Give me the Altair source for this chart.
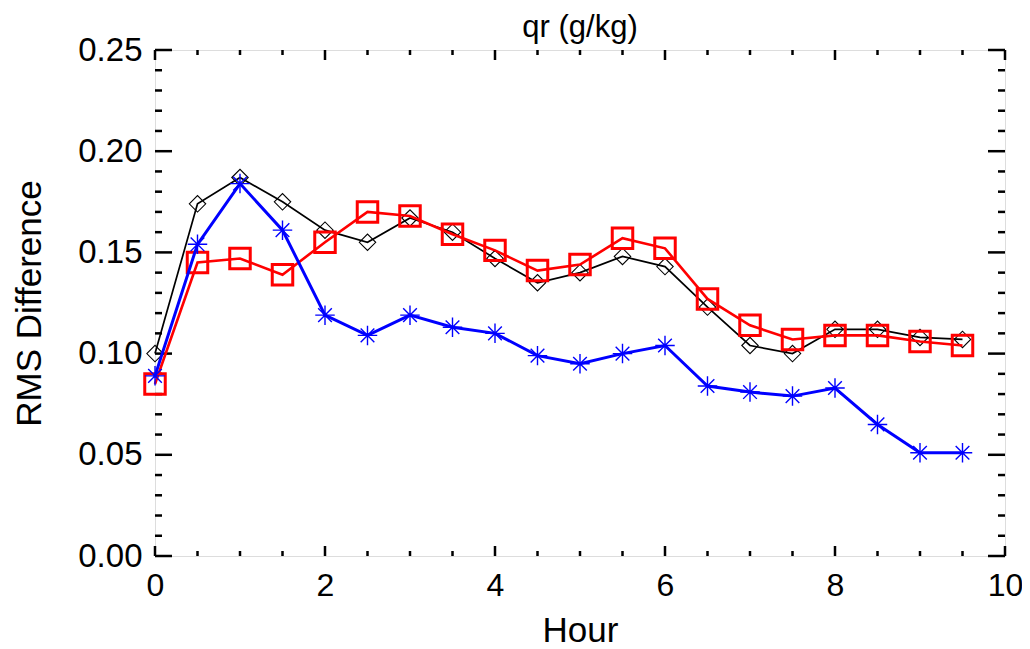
import altair as alt
import pandas as pd

# ---- data ----
hours = [0.0, 0.5, 1.0, 1.5, 2.0, 2.5, 3.0, 3.5, 4.0, 4.5,
         5.0, 5.5, 6.0, 6.5, 7.0, 7.5, 8.0, 8.5, 9.0, 9.5]
black_rms = [0.100, 0.174, 0.187, 0.175, 0.161, 0.155, 0.167, 0.160, 0.147, 0.135,
             0.140, 0.148, 0.143, 0.123, 0.104, 0.100, 0.112, 0.112, 0.108, 0.107]
red_rms = [0.085, 0.145, 0.147, 0.139, 0.155, 0.170, 0.168, 0.159, 0.151, 0.141,
           0.144, 0.157, 0.152, 0.127, 0.114, 0.107, 0.109, 0.109, 0.106, 0.104]
blue_rms = [0.089, 0.154, 0.184, 0.161, 0.119, 0.109, 0.119, 0.113, 0.110, 0.099,
            0.095, 0.100, 0.104, 0.084, 0.081, 0.079, 0.083, 0.065, 0.051, 0.051]

x_labels = [0, 2, 4, 6, 8, 10]
y_labels = [0.00, 0.05, 0.10, 0.15, 0.20, 0.25]
x_minor = [v / 2 for v in range(1, 20) if v % 4 != 0]
y_minor = [v / 100 for v in range(1, 25) if v % 5 != 0]

W, H = 850, 506
FONT = "Liberation Sans"

xscale = alt.Scale(domain=[0, 10], nice=False, zero=False)
yscale = alt.Scale(domain=[0, 0.25], nice=False, zero=False)

df_black = pd.DataFrame({"hour": hours, "rms": black_rms})
df_red = pd.DataFrame({"hour": hours, "rms": red_rms})
df_blue = pd.DataFrame({"hour": hours, "rms": blue_rms})

x_axis = alt.Axis(values=x_labels, title="Hour", format="d", ticks=False, tickSize=0,
                  domain=False, grid=False, labelPadding=14, titlePadding=12,
                  labelFlush=False, labelOverlap=False,
                  labelFontSize=32, titleFontSize=35, labelFont=FONT, titleFont=FONT,
                  titleFontWeight="normal", labelColor="black", titleColor="black")
y_axis = alt.Axis(values=y_labels, title="RMS Difference", format=".2f", ticks=False,
                  tickSize=0, domain=False, grid=False, labelPadding=13, titlePadding=30,
                  labelFlush=False, labelOverlap=False,
                  labelFontSize=33, titleFontSize=35, labelFont=FONT, titleFont=FONT,
                  titleFontWeight="normal", labelColor="black", titleColor="black")

XE = alt.X("hour:Q", scale=xscale, axis=x_axis)
YE = alt.Y("rms:Q", scale=yscale, axis=y_axis)


def series(df, color, width, shape, size, sw):
    line = alt.Chart(df).mark_line(color=color, strokeWidth=width, clip=False).encode(x=XE, y=YE)
    pts = alt.Chart(df).mark_point(shape=shape, size=size, filled=False, color=color,
                                   strokeWidth=sw, opacity=1, clip=False).encode(x=XE, y=YE)
    return [line, pts]


star = "M-1,0L1,0M0,-1L0,1M-0.7,-0.7L0.7,0.7M-0.7,0.7L0.7,-0.7"

black_layers = series(df_black, "black", 1.7, "diamond", 270, 1.1)
red_layers = series(df_red, "#ff0000", 2.6, "square", 420, 3.0)
blue_layers = series(df_blue, "#0000ff", 3.0, star, 380, 1.4)


def xticks(vals, length, top):
    d = pd.DataFrame({"hour": vals})
    if top:
        y0, y1 = 0, length
    else:
        y0, y1 = H, H - length
    return alt.Chart(d).mark_rule(color="black", strokeWidth=2.5).encode(
        x=XE, y=alt.value(y0), y2=alt.value(y1))


def yticks(vals, length, right):
    d = pd.DataFrame({"rms": vals})
    if right:
        x0, x1 = W, W - length
    else:
        x0, x1 = 0, length
    return alt.Chart(d).mark_rule(color="black", strokeWidth=2.5).encode(
        y=YE, x=alt.value(x0), x2=alt.value(x1))


ticks = [
    xticks(x_labels, 10, False), xticks(x_minor, 5, False),
    xticks(x_labels, 10, True), xticks(x_minor, 5, True),
    yticks(y_labels, 17, False), yticks(y_minor, 7, False),
    yticks(y_labels, 17, True), yticks(y_minor, 7, True),
]

chart = alt.layer(*black_layers, *ticks, *red_layers, *blue_layers).properties(
    width=W, height=H,
    title=alt.TitleParams("qr (g/kg)", fontSize=31, fontWeight="normal", font=FONT,
                          color="black", anchor="middle", frame="group", offset=-10),
    autosize=alt.AutoSizeParams(type="none"),
    padding={"left": 147, "top": 42, "right": 17, "bottom": 93},
).configure_view(stroke="black", strokeWidth=4).configure(background="white")

chart.save("out.html", embed_options={"renderer": "svg", "actions": False})
